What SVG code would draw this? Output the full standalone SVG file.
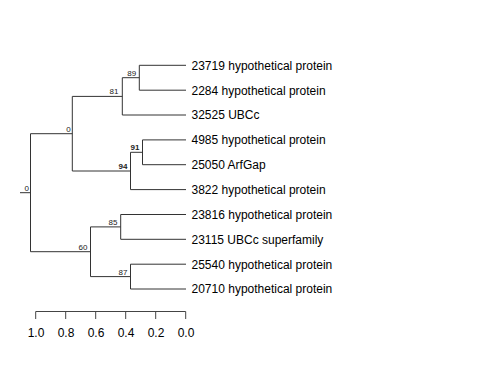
<svg xmlns="http://www.w3.org/2000/svg" width="480" height="384" viewBox="0 0 480 384">
<style>
.e{stroke:#333;stroke-width:1;fill:none}
.leaf{font-family:"Liberation Sans",Arial,sans-serif;font-size:12px;fill:#000}
.bs{font-family:"Liberation Sans",Arial,sans-serif;font-size:8px;fill:#222;text-anchor:end}
.bsb{font-weight:bold}
.ax{stroke:#444;stroke-width:1;fill:none}
.axt{font-family:"Liberation Sans",Arial,sans-serif;font-size:12px;fill:#000;text-anchor:middle}
</style>
<rect width="480" height="384" fill="#fff"/>
<g id="connectors">
<path class="e" d="M20,192.7H30.5M30.5,133.7V251.7M30.5,133.7H72.3M30.5,251.7H90.5"/>
<path class="e" d="M72.3,96.4V171M72.3,96.4H122.3M72.3,171H130.5"/>
<path class="e" d="M122.3,77.7V115M122.3,77.7H139.3M139.3,65.3V90.2M139.3,65.3H186M139.3,90.2H186M122.3,115H186"/>
<path class="e" d="M130.5,152.3V189.6M130.5,152.3H142.5M142.5,139.9V164.7M142.5,139.9H186M142.5,164.7H186M130.5,189.6H186"/>
<path class="e" d="M90.5,226.9V276.6M90.5,226.9H120.7M90.5,276.6H130.5"/>
<path class="e" d="M120.7,214.5V239.3M120.7,214.5H186M120.7,239.3H186"/>
<path class="e" d="M130.5,264.2V289M130.5,264.2H186M130.5,289H186"/>
</g>
<g id="leaf-23719"><text class="leaf" x="191.5" y="69.6">23719 hypothetical protein</text></g>
<g id="leaf-2284"><text class="leaf" x="191.5" y="94.5">2284 hypothetical protein</text></g>
<g id="leaf-32525"><text class="leaf" x="191.5" y="119.3">32525 UBCc</text></g>
<g id="leaf-4985"><text class="leaf" x="191.5" y="144.2">4985 hypothetical protein</text></g>
<g id="leaf-25050"><text class="leaf" x="191.5" y="169">25050 ArfGap</text></g>
<g id="leaf-3822"><text class="leaf" x="191.5" y="193.9">3822 hypothetical protein</text></g>
<g id="leaf-23816"><text class="leaf" x="191.5" y="218.8">23816 hypothetical protein</text></g>
<g id="leaf-23115"><text class="leaf" x="191.5" y="243.6">23115 UBCc superfamily</text></g>
<g id="leaf-25540"><text class="leaf" x="191.5" y="268.5">25540 hypothetical protein</text></g>
<g id="leaf-20710"><text class="leaf" x="191.5" y="293.3">20710 hypothetical protein</text></g>
<g id="node-root"><text class="bs" x="29" y="190.7">0</text></g>
<g id="node-0"><text class="bs" x="70.7" y="131.7">0</text></g>
<g id="node-81"><text class="bs" x="118.5" y="93.8">81</text></g>
<g id="node-89"><text class="bs" x="136.2" y="75.8">89</text></g>
<g id="node-94"><text class="bs bsb" x="127.5" y="168.6">94</text></g>
<g id="node-91"><text class="bs bsb" x="139.5" y="150">91</text></g>
<g id="node-60"><text class="bs" x="87.5" y="249.8">60</text></g>
<g id="node-85"><text class="bs" x="117.5" y="225">85</text></g>
<g id="node-87"><text class="bs" x="127.5" y="274.8">87</text></g>
<g id="axis">
<path class="ax" d="M35.7,311.5H185.7M35.7,311.5V319M65.7,311.5V319M95.7,311.5V319M125.7,311.5V319M155.7,311.5V319M185.7,311.5V319"/>
<text class="axt" x="36" y="337">1.0</text>
<text class="axt" x="66" y="337">0.8</text>
<text class="axt" x="96" y="337">0.6</text>
<text class="axt" x="126" y="337">0.4</text>
<text class="axt" x="156" y="337">0.2</text>
<text class="axt" x="186" y="337">0.0</text>
</g>
</svg>
